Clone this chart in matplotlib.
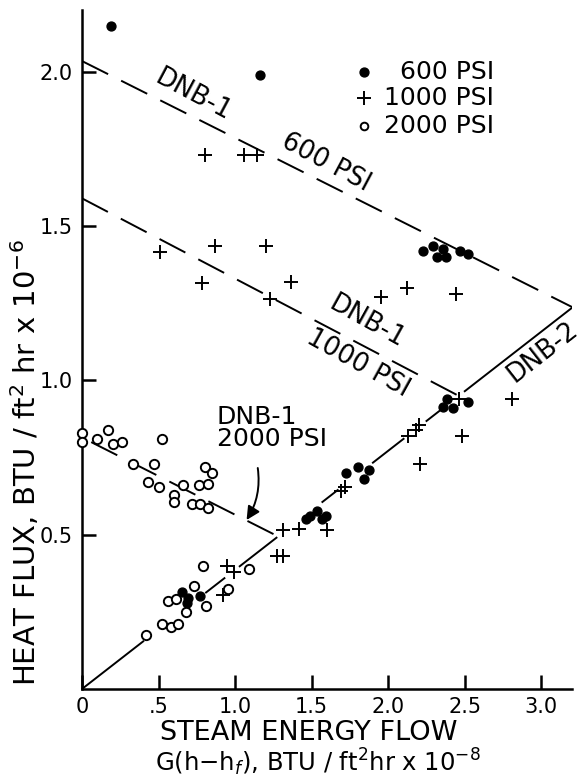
import matplotlib
matplotlib.use("Agg")
import matplotlib.pyplot as plt
import numpy as np

plt.rcParams['font.family'] = ['DejaVu Sans']

# 600 PSI (filled dots)
p600_x = [0.19, 1.16, 2.23, 2.29, 2.36, 2.32, 2.38, 2.47, 2.52,
          2.385, 2.36, 2.42, 2.52,
          1.725, 1.80, 1.875, 1.84,
          1.46, 1.49, 1.535, 1.57, 1.595,
          0.65, 0.69, 0.685, 0.77]
p600_y = [2.15, 1.99, 1.42, 1.435, 1.425, 1.40, 1.40, 1.42, 1.41,
          0.94, 0.915, 0.91, 0.93,
          0.70, 0.72, 0.708, 0.68,
          0.55, 0.56, 0.578, 0.55, 0.56,
          0.315, 0.295, 0.28, 0.30]

# 1000 PSI (crosses)
p1000_x = [0.80, 1.06, 1.14, 0.51, 0.87, 1.20, 0.785, 1.365, 1.23,
           1.95, 2.12, 2.44, 2.46, 2.81, 2.48, 2.21,
           2.13, 2.18, 2.20, 1.69, 1.72, 1.60, 1.31, 1.42,
           1.275, 1.31, 0.95, 0.99, 0.92]
p1000_y = [1.73, 1.73, 1.73, 1.415, 1.435, 1.435, 1.315, 1.32, 1.265,
           1.27, 1.30, 1.28, 0.94, 0.94, 0.82, 0.73,
           0.82, 0.84, 0.857, 0.64, 0.655, 0.515, 0.515, 0.52,
           0.43, 0.43, 0.40, 0.38, 0.305]

# 2000 PSI (open circles)
p2000_x = [0.0, 0.0, 0.10, 0.17, 0.20, 0.26, 0.52, 0.33, 0.47, 0.43,
           0.50, 0.66, 0.60, 0.60, 0.72, 0.77, 0.82, 0.765, 0.82, 0.80,
           0.85, 0.79, 1.09, 0.955, 0.73, 0.56, 0.615, 0.68, 0.81,
           0.52, 0.58, 0.63, 0.42]
p2000_y = [0.83, 0.80, 0.81, 0.84, 0.795, 0.80, 0.81, 0.73, 0.73, 0.67,
           0.655, 0.66, 0.63, 0.605, 0.60, 0.60, 0.585, 0.66, 0.665, 0.72,
           0.70, 0.40, 0.39, 0.325, 0.335, 0.285, 0.29, 0.25, 0.27,
           0.21, 0.20, 0.21, 0.175]

# correlation lines
dnb1_600_x, dnb1_600_y = [0.0, 3.2], [2.035, 1.238]
dnb1_1000_x, dnb1_1000_y = [0.0, 2.46], [1.59, 0.95]
dnb1_2000_x, dnb1_2000_y = [0.06, 1.27], [0.80, 0.497]
dnb2_slope = 0.386
dnb2_segments = [(0.0, 0.40), (0.81, 0.93), (1.03, 1.27), (1.57, 1.67),
                 (1.90, 2.10), (2.25, 2.34), (2.50, 3.2)]

fig = plt.figure(figsize=(5.86, 7.82), dpi=100)
ax = fig.add_axes([0.140, 0.119, 0.836, 0.868])

dash = dict(color='black', lw=1.4, dashes=(15, 7.5))
ax.plot(dnb1_600_x, dnb1_600_y, **dash)
ax.plot(dnb1_1000_x, dnb1_1000_y, **dash)
ax.plot(dnb1_2000_x, dnb1_2000_y, **dash)
for x0, x1 in dnb2_segments:
    ax.plot([x0, x1], [dnb2_slope * x0, dnb2_slope * x1], color='black', lw=1.4)

ax.plot(p600_x, p600_y, 'o', color='black', ms=6.4, clip_on=False)
ax.plot(p1000_x, p1000_y, '+', color='black', ms=10, mew=1.4, clip_on=False)
ax.plot(p2000_x, p2000_y, 'o', mfc='white', mec='black', ms=6.7, mew=1.4,
        clip_on=False, zorder=3)

# legend, drawn by hand so the labels line up on the right
leg_y = [2.0, 1.915, 1.825]
ax.plot(1.84, leg_y[0], 'o', color='black', ms=6.4)
ax.plot(1.84, leg_y[1], '+', color='black', ms=10, mew=1.4)
ax.plot(1.84, leg_y[2], 'o', mfc='white', mec='black', ms=5.5, mew=1.4)
for yy, lab in zip(leg_y, ['600 PSI', '1000 PSI', '2000 PSI']):
    ax.text(2.69, yy, lab, ha='right', va='center', fontsize=18)

# line labels
lbl = dict(ha='center', va='center', fontsize=18.5, rotation_mode='anchor')
ax.text(0.725, 1.925, 'DNB-1', rotation=-28, **lbl)
ax.text(1.595, 1.705, '600 PSI', rotation=-28, **lbl)
ax.text(1.86, 1.19, 'DNB-1', rotation=-29, **lbl)
ax.text(1.80, 1.055, '1000 PSI', rotation=-29, **lbl)
ax.text(3.01, 1.09, 'DNB-2', rotation=38, **lbl)

ax.text(0.88, 0.92, 'DNB-1\n2000 PSI', ha='left', va='top', fontsize=18,
        linespacing=0.9)
ax.annotate('', xy=(1.065, 0.54), xytext=(1.145, 0.725),
            arrowprops=dict(arrowstyle='-|>', connectionstyle='arc3,rad=-0.2',
                            color='black', lw=1.4, mutation_scale=20))

ax.set_xlim(0, 3.2)
ax.set_ylim(0, 2.2)
ax.set_xticks([0, 0.5, 1.0, 1.5, 2.0, 2.5, 3.0])
ax.set_xticklabels(['0', '.5', '1.0', '1.5', '2.0', '2.5', '3.0'])
ax.set_yticks([0.5, 1.0, 1.5, 2.0])
ax.set_yticklabels(['0.5', '1.0', '1.5', '2.0'])
ax.tick_params(direction='in', length=10, width=1.8, labelsize=15)
ax.tick_params(axis='x', pad=6)
ax.tick_params(axis='y', pad=7)
for s in ['top', 'right']:
    ax.spines[s].set_visible(False)
for s in ['left', 'bottom']:
    ax.spines[s].set_linewidth(1.8)

ax.set_ylabel(r'HEAT FLUX, BTU / ft$^2$ hr x 10$^{-6}$', fontsize=21)
ax.yaxis.set_label_coords(-0.082, 0.334)
ax.text(0.463, -0.075, 'STEAM ENERGY FLOW', transform=ax.transAxes,
        ha='center', va='baseline', fontsize=19.5)
ax.text(0.482, -0.122, r'G(h$-$h$_f$), BTU / ft$^2$hr x 10$^{-8}$',
        transform=ax.transAxes, ha='center', va='baseline', fontsize=17.5)

fig.savefig('out.png', dpi=100)
